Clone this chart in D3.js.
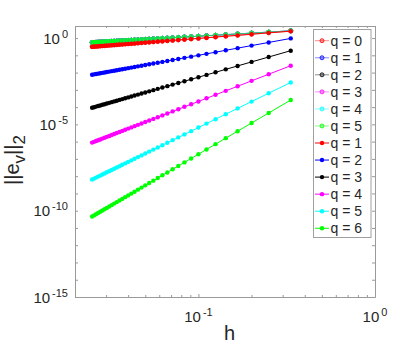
<!DOCTYPE html>
<html>
<head>
<meta charset="utf-8">
<script src="https://cdn.jsdelivr.net/npm/d3@7"></script>
<style>
  body { margin: 0; background: #fff; }
  svg text { font-family: "Liberation Sans", Arial, sans-serif; fill: #262626; }
</style>
</head>
<body>
<svg id="chart" width="415" height="346"></svg>
<script>
// Mesh sizes: h = 1/N
const meshN = [3, 4, 5, 6, 7, 8, 9, 10, 11, 12, 13, 14, 15, 16, 17, 18, 19, 20, 21, 22,
  23, 24, 25, 26, 27, 28, 29, 30, 31, 32, 33, 34, 35, 36, 37, 38, 39, 40];
const hVals = meshN.map(n => 1 / n);

// errors, one value per mesh size (N = 3 .. 40)
const errRedTop = [2.51, 2.00, 1.67, 1.44, 1.28, 1.15, 1.04, 0.959, 0.889, 0.828, 0.778, 0.733, 0.693, 0.658,
  0.627, 0.599, 0.574, 0.551, 0.530, 0.510, 0.492, 0.476, 0.460, 0.447, 0.433, 0.421, 0.409, 0.398,
  0.388, 0.378, 0.369, 0.360, 0.352, 0.344, 0.337, 0.330, 0.323, 0.316];
const errGreenTop = [2.63, 2.21, 1.94, 1.73, 1.58, 1.46, 1.36, 1.28, 1.21, 1.15, 1.09, 1.04, 1.00, 0.964,
  0.929, 0.898, 0.869, 0.843, 0.818, 0.796, 0.775, 0.755, 0.738, 0.720, 0.704, 0.689, 0.675, 0.661,
  0.648, 0.636, 0.624, 0.613, 0.603, 0.592, 0.582, 0.573, 0.565, 0.556];
const errBlue = [0.955, 0.557, 0.367, 0.261, 0.196, 0.152, 0.122, 0.100, 0.0841, 0.0714, 0.0615, 0.0536,
  0.0471, 0.0417, 0.0373, 0.0335, 0.0303, 0.0275, 0.0251, 0.0230, 0.0212, 0.0195, 0.0181, 0.0168,
  0.0157, 0.0147, 0.0137, 0.0129, 0.0121, 0.0114, 0.0108, 0.0102, 0.00966, 0.00916, 0.00871,
  0.00828, 0.00789, 0.00752];
const errBlack = [0.186, 0.0799, 0.0415, 0.0243, 0.0154, 0.0104, 7.37e-3, 5.41e-3, 4.08e-3, 3.16e-3,
  2.50e-3, 2.01e-3, 1.64e-3, 1.36e-3, 1.14e-3, 9.60e-4, 8.18e-4, 7.05e-4, 6.10e-4, 5.32e-4, 4.67e-4,
  4.12e-4, 3.66e-4, 3.26e-4, 2.91e-4, 2.62e-4, 2.36e-4, 2.14e-4, 1.94e-4, 1.77e-4, 1.61e-4, 1.48e-4,
  1.36e-4, 1.25e-4, 1.15e-4, 1.07e-4, 9.89e-5, 9.17e-5];
const errMagenta = [0.0251, 8.04e-3, 3.32e-3, 1.61e-3, 8.77e-4, 5.16e-4, 3.24e-4, 2.13e-4, 1.46e-4,
  1.04e-4, 7.55e-5, 5.64e-5, 4.28e-5, 3.32e-5, 2.61e-5, 2.08e-5, 1.68e-5, 1.37e-5, 1.13e-5, 9.40e-6,
  7.89e-6, 6.67e-6, 5.68e-6, 4.85e-6, 4.18e-6, 3.61e-6, 3.15e-6, 2.75e-6, 2.42e-6, 2.13e-6, 1.89e-6,
  1.68e-6, 1.50e-6, 1.34e-6, 1.20e-6, 1.08e-6, 9.75e-7, 8.81e-7];
const errCyan = [2.69e-3, 6.38e-4, 2.09e-4, 8.40e-5, 3.89e-5, 2.00e-5, 1.11e-5, 6.53e-6, 4.06e-6,
  2.62e-6, 1.76e-6, 1.22e-6, 8.61e-7, 6.24e-7, 4.61e-7, 3.46e-7, 2.64e-7, 2.04e-7, 1.60e-7, 1.27e-7,
  1.02e-7, 8.21e-8, 6.70e-8, 5.50e-8, 4.55e-8, 3.79e-8, 3.18e-8, 2.69e-8, 2.28e-8, 1.95e-8, 1.67e-8,
  1.44e-8, 1.24e-8, 1.08e-8, 9.42e-9, 8.24e-9, 7.24e-9, 6.38e-9];
const errGreenLow = [2.57e-4, 4.57e-5, 1.20e-5, 4.01e-6, 1.59e-6, 7.14e-7, 3.53e-7, 1.87e-7, 1.06e-7,
  6.27e-8, 3.88e-8, 2.49e-8, 1.64e-8, 1.12e-8, 7.76e-9, 5.51e-9, 3.98e-9, 2.93e-9, 2.18e-9, 1.65e-9,
  1.26e-9, 9.80e-10, 7.67e-10, 6.07e-10, 4.83e-10, 3.88e-10, 3.15e-10, 2.57e-10, 2.11e-10, 1.75e-10,
  1.45e-10, 1.21e-10, 1.02e-10, 8.61e-11, 7.30e-11, 6.22e-11, 5.32e-11, 4.57e-11];

const colors = ["#ff0000", "#0000ff", "#000000", "#ff00ff", "#00ffff", "#00ff00"];
const qOpen = [0, 1, 2, 3, 4, 5];
const qFilled = [1, 2, 3, 4, 5, 6];
const openValues = [errRedTop, errGreenTop, errGreenTop, errGreenTop, errGreenTop, errGreenTop];
const filledValues = [errRedTop, errBlue, errBlack, errMagenta, errCyan, errGreenLow];

const yLabelExps = [0, -5, -10, -15];
const xLabelExps = [-1, 0];

const margin = { top: 26, right: 40, bottom: 49, left: 75 };
const width = 415 - margin.left - margin.right;
const height = 346 - margin.top - margin.bottom;

const svg = d3.select("#chart");
const g = svg.append("g").attr("transform", `translate(${margin.left},${margin.top})`);

const x = d3.scaleLog().domain([0.02, 1]).range([0, width]);
const y = d3.scaleLog().domain([1e-15, 5]).range([height, 0]);

// tick positions
const yTicks = d3.range(-15, 1).map(e => Math.pow(10, e));
const xMinor = [0.02, 0.03, 0.04, 0.05, 0.06, 0.07, 0.08, 0.09, 0.2, 0.3, 0.4, 0.5, 0.6, 0.7, 0.8, 0.9];
const xMajor = [0.1, 1];

const axisColor = "#9a9a9a";

function styleAxis(sel) {
  sel.selectAll("path, line").attr("stroke", axisColor);
  sel.selectAll("text").remove();
}

g.append("g").call(d3.axisLeft(y).tickValues(yTicks).tickSize(-3).tickSizeOuter(0)).call(styleAxis);
g.append("g").attr("transform", `translate(${width},0)`)
  .call(d3.axisRight(y).tickValues(yTicks).tickSize(-3).tickSizeOuter(0)).call(styleAxis);
g.append("g").attr("transform", `translate(0,${height})`)
  .call(d3.axisBottom(x).tickValues(xMinor).tickSize(-2).tickSizeOuter(0)).call(styleAxis);
g.append("g").attr("transform", `translate(0,${height})`)
  .call(d3.axisBottom(x).tickValues(xMajor).tickSize(-3).tickSizeOuter(0)).call(styleAxis);
g.append("g")
  .call(d3.axisTop(x).tickValues(xMinor).tickSize(-2).tickSizeOuter(0)).call(styleAxis);
g.append("g")
  .call(d3.axisTop(x).tickValues(xMajor).tickSize(-3).tickSizeOuter(0)).call(styleAxis);

// tick labels with superscripts
yLabelExps.forEach(e => {
  const t = g.append("text")
    .attr("x", -7)
    .attr("y", y(Math.pow(10, e)) + 5.5)
    .attr("text-anchor", "end")
    .style("font-size", "15px");
  t.append("tspan").text("10");
  t.append("tspan").attr("dy", -6).attr("dx", 2).style("font-size", "11px").text(e);
});
xLabelExps.forEach(e => {
  const t = g.append("text")
    .attr("x", x(Math.pow(10, e)))
    .attr("y", height + 25)
    .attr("text-anchor", "middle")
    .style("font-size", "15px");
  t.append("tspan").text("10");
  t.append("tspan").attr("dy", -6).attr("dx", 2).style("font-size", "11px").text(e);
});

// axis labels
svg.append("text")
  .attr("x", margin.left + x(0.15))
  .attr("y", 340)
  .attr("text-anchor", "middle")
  .style("font-size", "20px")
  .text("h");

const yl = svg.append("text")
  .attr("transform", `translate(19,160) rotate(-90)`)
  .attr("text-anchor", "middle")
  .style("font-size", "20px");
yl.append("tspan").text("||e");
yl.append("tspan").attr("dy", 6).style("font-size", "17px").text("v");
yl.append("tspan").attr("dy", -6).text("||");
yl.append("tspan").attr("dy", 6).style("font-size", "17px").text("2");

const line = d3.line()
  .x(d => x(d.h))
  .y(d => y(d.e));

function toPoints(vals) {
  return hVals.map((h, i) => ({ h: h, e: vals[i] }));
}

// open-marker set (q = 0..5), lighter
openValues.forEach((vals, i) => {
  const pts = toPoints(vals);
  g.append("path").datum(pts)
    .attr("d", line)
    .attr("fill", "none")
    .attr("stroke", colors[i])
    .attr("stroke-opacity", 0.45)
    .attr("stroke-width", 1);
  g.selectAll(null).data(pts).enter().append("circle")
    .attr("cx", d => x(d.h))
    .attr("cy", d => y(d.e))
    .attr("r", 2)
    .attr("fill", colors[i])
    .attr("fill-opacity", 0.35)
    .attr("stroke", colors[i])
    .attr("stroke-opacity", 0.8)
    .attr("stroke-width", 1);
});

// filled-marker set (q = 1..6)
filledValues.forEach((vals, i) => {
  const pts = toPoints(vals);
  g.append("path").datum(pts)
    .attr("d", line)
    .attr("fill", "none")
    .attr("stroke", colors[i])
    .attr("stroke-width", 1);
  g.selectAll(null).data(pts).enter().append("circle")
    .attr("cx", d => x(d.h))
    .attr("cy", d => y(d.e))
    .attr("r", 2.2)
    .attr("fill", colors[i]);
});

// legend
const legendItems = qOpen.map((q, i) => ({ q: q, color: colors[i], open: true }))
  .concat(qFilled.map((q, i) => ({ q: q, color: colors[i], open: false })));

const lg = svg.append("g").attr("transform", "translate(313.5,29.5)");
lg.append("rect")
  .attr("width", 57.5)
  .attr("height", 208)
  .attr("fill", "#fff")
  .attr("stroke", "#a0a0a0")
  .attr("stroke-width", 1);

const rowH = 17.05;
legendItems.forEach((d, i) => {
  const cy = 11.2 + i * rowH;
  lg.append("line")
    .attr("x1", 1.5).attr("x2", 15.5)
    .attr("y1", cy).attr("y2", cy)
    .attr("stroke", d.color)
    .attr("stroke-opacity", d.open ? 0.45 : 1)
    .attr("stroke-width", 1);
  lg.append("circle")
    .attr("cx", 8.5).attr("cy", cy)
    .attr("r", d.open ? 2 : 2.2)
    .attr("fill", d.color)
    .attr("fill-opacity", d.open ? 0.35 : 1)
    .attr("stroke", d.open ? d.color : "none")
    .attr("stroke-opacity", 0.8);
  lg.append("text")
    .attr("x", 17)
    .attr("y", cy + 5)
    .style("font-size", "14px")
    .text(`q = ${d.q}`);
});
</script>
</body>
</html>
